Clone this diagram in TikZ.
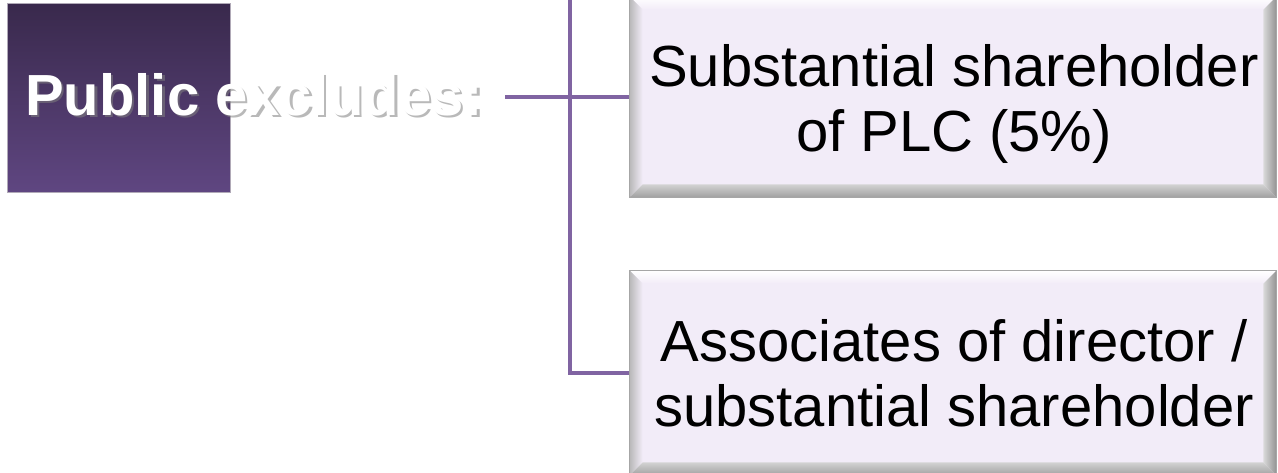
\documentclass[tikz,border=0pt]{standalone}
\usepackage{fontspec}
\setmainfont{Liberation Sans}
\usetikzlibrary{calc}
\definecolor{linepurple}{HTML}{8064A2}
\definecolor{boxfill}{HTML}{F2ECF8}
\definecolor{sqtop}{HTML}{39294C}
\definecolor{sqbot}{HTML}{5F4681}
\tikzset{
  conn/.style={draw=linepurple, line width=4.5pt},
  bevelbox/.style={draw=gray!70, line width=0.8pt, fill=boxfill, minimum width=646pt, inner sep=0pt,
     font=\fontsize{58}{65}\selectfont, align=center, text=black},
  titlesq/.style={draw=sqtop!40, line width=0.6pt, top color=sqtop, bottom color=sqbot, minimum width=223pt, minimum height=189pt},
  titletext/.style={font=\bfseries\fontsize{58}{65}\selectfont, inner sep=0pt, anchor=west}
}
\newcommand\bevelstrips[1]{%
  \def\bw{13}%
  \shade[top color=white, bottom color=boxfill] (#1.north west) -- (#1.north east) -- ($(#1.north east)+(-\bw,\bw)$) -- ($(#1.north west)+(\bw,\bw)$) -- cycle;
  \shade[left color=gray!55, right color=boxfill] (#1.north west) -- ($(#1.north west)+(\bw,\bw)$) -- ($(#1.south west)+(\bw,-\bw)$) -- (#1.south west) -- cycle;
  \shade[top color=gray!35, bottom color=gray!75] (#1.south west) -- ($(#1.south west)+(\bw,-\bw)$) -- ($(#1.south east)+(-\bw,-\bw)$) -- (#1.south east) -- cycle;
  \shade[left color=gray!30, right color=gray!85] (#1.north east) -- ($(#1.north east)+(-\bw,\bw)$) -- ($(#1.south east)+(-\bw,-\bw)$) -- (#1.south east) -- cycle;
  \draw[gray!70, line width=0.8pt] (#1.north west) rectangle (#1.south east);
}
\begin{document}
\begin{tikzpicture}[x=1pt, y=-1pt]
\useasboundingbox[fill=white] (0,0) rectangle (1278,472);
\node[bevelbox, minimum height=200pt] (box1) at (953,97) {};
\node[bevelbox, minimum height=204pt] (box2) at (953,373) {};
\coordinate (top) at (570,-2);
\node[titlesq] (sq) at (118.5,97.5) {};
\node[titletext, text=black!50, opacity=0.55] (shadow) at (27.5,97) {Public excludes:};
\node[titletext, text=white] (title) at (25,94.5) {Public excludes:};
\draw[conn] ([xshift=22pt,yshift=-2.5pt]title.east) -- (box1.west);
\draw[conn] (top) -- (top |- box2.west) -- (box2.west);
\bevelstrips{box1}
\bevelstrips{box2}
\node[font=\fontsize{58}{65}\selectfont, align=center, inner sep=0pt] (t1) at (954,104) {Substantial shareholder\\of PLC (5\%)};
\node[font=\fontsize{58}{65}\selectfont, align=center, inner sep=0pt] (t2) at (954,373) {Associates of director /\\substantial shareholder};
\end{tikzpicture}
\end{document}
